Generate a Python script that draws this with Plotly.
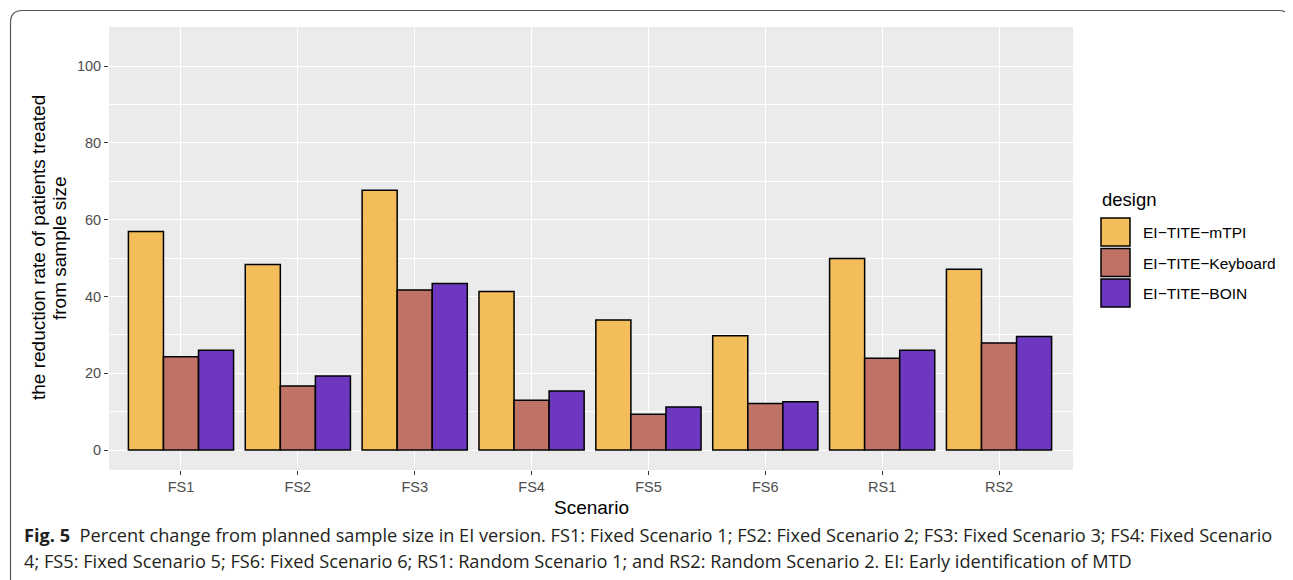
import plotly.graph_objects as go

# data
scenarios = ["FS1", "FS2", "FS3", "FS4", "FS5", "FS6", "RS1", "RS2"]
designs = ["EI\u2212TITE\u2212mTPI", "EI\u2212TITE\u2212Keyboard", "EI\u2212TITE\u2212BOIN"]
mtpi = [56.9, 48.3, 67.7, 41.3, 33.9, 29.8, 49.9, 47.1]
keyboard = [24.3, 16.7, 41.7, 13.0, 9.3, 12.1, 23.9, 27.9]
boin = [26.0, 19.3, 43.4, 15.4, 11.2, 12.6, 26.0, 29.6]
y_ticks = [0, 20, 40, 60, 80, 100]

colors = ["#F3BE5A", "#C17266", "#6D38BF"]
series = [mtpi, keyboard, boin]

# page is 1293x580 but the html body has an 8px margin
PAGE_W, PAGE_H, OFF = 1293, 580, 8
L, R, T, B = 109, 1073, 27, 470   # panel edges in page pixels


def px(x):
    return (x - L) / (R - L)


def py(y):
    return (B - y) / (B - T)


fig = go.Figure()
for name, vals, col in zip(designs, series, colors):
    fig.add_trace(go.Bar(
        x=scenarios, y=vals, name=name,
        marker=dict(color=col, line=dict(color="black", width=1.5)),
        showlegend=False,
    ))

fig.update_layout(
    width=PAGE_W - OFF, height=PAGE_H - OFF,
    margin=dict(l=L - OFF, r=PAGE_W - R, t=T - OFF, b=PAGE_H - B),
    paper_bgcolor="white",
    plot_bgcolor="#EBEBEB",
    barmode="group", bargap=0.1, bargroupgap=0,
    font=dict(family="Liberation Sans, Arial, sans-serif", color="black"),
)
fig.update_xaxes(
    range=[-0.616, 7.633], showgrid=True, gridcolor="white", gridwidth=1.4,
    ticks="outside", ticklen=4, tickwidth=1.2, tickcolor="#333333",
    tickfont=dict(size=14.5, color="#4D4D4D"), zeroline=False,
)
fig.update_yaxes(
    range=[-5.2, 110.2], tickvals=y_ticks, showgrid=True, gridcolor="white",
    gridwidth=1.4, ticks="outside", ticklen=4, tickwidth=1.2, tickcolor="#333333",
    tickfont=dict(size=14.5, color="#4D4D4D"), zeroline=False,
    minor=dict(dtick=10, tick0=0, showgrid=True, gridcolor="white", gridwidth=0.7),
)


def label(text, x, y, size, **kw):
    d = dict(text=text, x=px(x), y=py(y), xref="paper", yref="paper",
             showarrow=False, xanchor=kw.pop("xanchor", "center"),
             yanchor="middle", font=dict(size=size, **kw.pop("font", {})))
    d.update(kw)
    return d


ann = [
    label("Scenario", 591, 507, 19),
    label("the reduction rate of patients treated", 38, 248, 19, textangle=-90),
    label("from sample size", 59, 248, 19, textangle=-90),
]

# legend drawn by hand to get the large ggplot keys
shapes = []
ann.append(label("design", 1100, 199, 18.5, xanchor="left"))
for i, (name, col) in enumerate(zip(designs, colors)):
    top = 218 + i * 30.5
    shapes.append(dict(type="rect", xref="paper", yref="paper",
                       x0=px(1101), x1=px(1130), y0=py(top), y1=py(top + 28),
                       fillcolor=col, line=dict(color="black", width=1.5)))
    ann.append(label(name, 1141, top + 14.5, 15.5, xanchor="left"))

# caption
cap1 = ("<b>Fig. 5</b>  Percent change from planned sample size in EI version. "
        "FS1: Fixed Scenario 1; FS2: Fixed Scenario 2; FS3: Fixed Scenario 3; FS4: Fixed Scenario")
cap2 = ("4; FS5: Fixed Scenario 5; FS6: Fixed Scenario 6; RS1: Random Scenario 1; "
        "and RS2: Random Scenario 2. EI: Early identification of MTD")
for txt, yy in [(cap1, 535), (cap2, 561)]:
    ann.append(label(txt, 22, yy, 18.2, xanchor="left",
                     font=dict(family="Open Sans, sans-serif", color="#231F20")))

# rounded outer frame
x0, y0, x1, y1, r = 10.5, 10.5, 1290.5, 590, 12
path = (f"M {px(x0 + r)},{py(y1)} Q {px(x0)},{py(y1)} {px(x0)},{py(y1 - r)} "
        f"L {px(x0)},{py(y0 + r)} "
        f"Q {px(x0)},{py(y0)} {px(x0 + r)},{py(y0)} "
        f"L {px(x1 - r)},{py(y0)} Q {px(x1)},{py(y0)} {px(x1)},{py(y0 + r)} "
        f"L {px(x1)},{py(y1)}")
shapes.append(dict(type="path", xref="paper", yref="paper", path=path,
                   line=dict(color="#555555", width=1.2)))

fig.update_layout(annotations=ann, shapes=shapes)
fig.write_html("out.html")
